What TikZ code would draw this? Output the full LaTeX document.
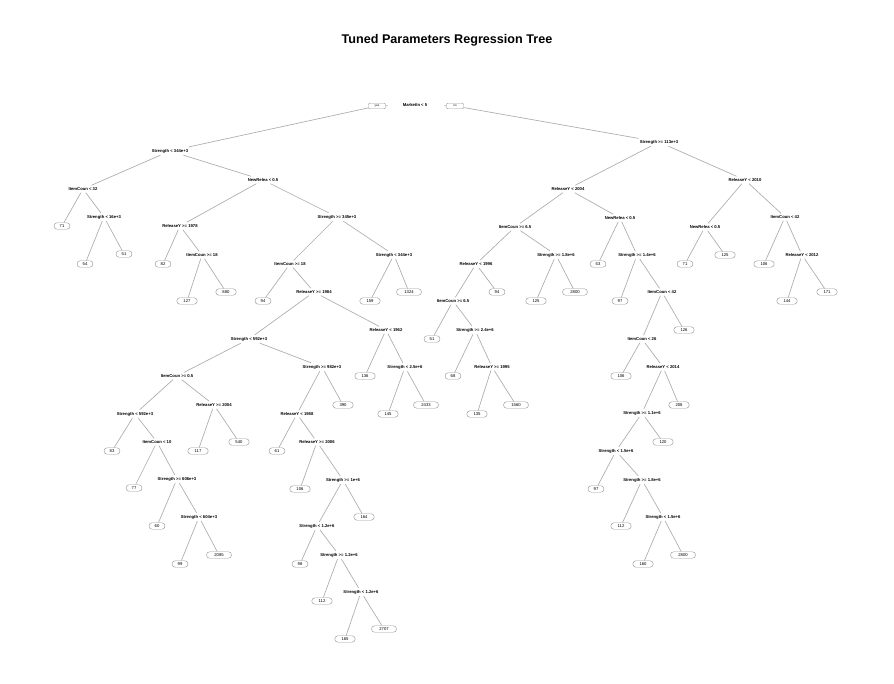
\documentclass[tikz,border=0pt]{standalone}
\usepackage{fontspec}
\setmainfont{Liberation Sans}
\begin{document}
\begin{tikzpicture}[x=1pt,y=-1pt,
  split/.style={font=\fontsize{4.2}{5}\selectfont\bfseries, inner xsep=1pt, inner ysep=2pt},
  leaf/.style={draw=gray!80, line width=0.45pt, rounded corners=3.2pt, minimum height=6.5pt, inner ysep=0pt, inner xsep=0pt, font=\fontsize{4.2}{5}\selectfont, fill=white},
  lwa/.style={leaf, minimum width=16pt},
  lwb/.style={leaf, minimum width=20.5pt},
  lwc/.style={leaf, minimum width=25pt},
  yn/.style={draw=gray!80, line width=0.45pt, rounded corners=1pt, minimum height=5.5pt, minimum width=17pt, inner sep=0pt, font=\fontsize{3}{4}\selectfont},
  edge/.style={draw=gray!65, line width=0.65pt}]
\useasboundingbox (0,0) rectangle (894,683);
\fill[white] (0,0) rectangle (894,683);
\node[font=\fontsize{12.6}{15}\selectfont\bfseries] (title) at (447,40) {Tuned Parameters Regression Tree};
% root
\node[split] (r) at (415,105) {MarketIn < 5};
\node[yn] (yes) at (377,106) {yes};
\node[yn] (no) at (455,106) {no};
% left subtree
\node[split] (a) at (170,151) {Strength < 344e+3};
\node[split] (a1) at (83,189) {ItemCoun < 32};
\node[lwa] (l71) at (62,226) {71};
\node[split] (a12) at (104,217) {Strength < 16e+3};
\node[lwa] (l54) at (85,264) {54};
\node[lwa] (l51) at (124,254) {51};
\node[split] (a2) at (263,180) {NewRelea < 0.5};
\node[split] (a21) at (180,226) {ReleaseY >= 1978};
\node[lwa] (l82) at (163,264) {82};
\node[split] (a212) at (202,255) {ItemCoun >= 18};
\node[lwb] (l127) at (187,301) {127};
\node[lwb] (l880) at (226,292) {880};
\node[split] (a22) at (337,217) {Strength >= 345e+3};
\node[split] (b1) at (290,264) {ItemCoun >= 18};
\node[lwa] (l94a) at (263,301) {94};
\node[split] (b2) at (314,292) {ReleaseY >= 1984};
\node[split] (c1) at (249,339) {Strength < 592e+3};
\node[split] (c11) at (177,376) {ItemCoun >= 0.5};
\node[split] (c111) at (135,414) {Strength < 592e+3};
\node[lwa] (l83) at (112,451) {83};
\node[split] (c1112) at (157,442) {ItemCoun < 10};
\node[lwa] (l77) at (134,488) {77};
\node[split] (c11122) at (177,479) {Strength >= 606e+3};
\node[lwa] (l60) at (157,526) {60};
\node[split] (c111222) at (199,517) {Strength < 604e+3};
\node[lwa] (l99) at (180,564) {99};
\node[lwc] (l2085) at (219,555) {2085};
\node[split] (c112) at (214,405) {ReleaseY >= 2004};
\node[lwb] (l117) at (198,451) {117};
\node[lwb] (l540) at (239,442) {540};
\node[split] (c12) at (322,367) {Strength >= 982e+3};
\node[split] (c121) at (297,414) {ReleaseY < 1988};
\node[lwa] (l61) at (277,451) {61};
\node[split] (c1212) at (317,442) {ReleaseY >= 2006};
\node[lwb] (l106a) at (300,489) {106};
\node[split] (c12122) at (343,480) {Strength >= 1e+6};
\node[split] (c121221) at (317,526) {Strength < 1.2e+6};
\node[lwa] (l98) at (300,564) {98};
\node[split] (c1212212) at (339,555) {Strength >= 1.2e+6};
\node[lwb] (l112a) at (322,601) {112};
\node[split] (c12122122) at (361,592) {Strength < 1.2e+6};
\node[lwb] (l165) at (345,639) {165};
\node[lwc] (l2707) at (384,629) {2707};
\node[lwb] (l164) at (364,517) {164};
\node[lwb] (l390) at (343,405) {390};
\node[split] (c2) at (386,330) {ReleaseY < 1962};
\node[lwb] (l136) at (365,376) {136};
\node[split] (c22) at (405,367) {Strength < 2.5e+6};
\node[lwb] (l145) at (388,414) {145};
\node[lwc] (l2433) at (426,405) {2433};
\node[split] (b3) at (394,255) {Strength < 344e+3};
\node[lwb] (l159) at (370,301) {159};
\node[lwc] (l1324) at (409,292) {1324};
% right subtree
\node[split] (d) at (659,142) {Strength >= 113e+3};
\node[split] (d1) at (568,189) {ReleaseY < 2004};
\node[split] (d11) at (515,227) {ItemCoun >= 6.5};
\node[split] (d111) at (476,264) {ReleaseY < 1996};
\node[split] (d1111) at (453,301) {ItemCoun >= 6.5};
\node[lwa] (l51b) at (432,339) {51};
\node[split] (d11112) at (475,330) {Strength >= 2.4e+6};
\node[lwa] (l68) at (453,376) {68};
\node[split] (d111122) at (492,367) {ReleaseY >= 1995};
\node[lwb] (l135) at (477,414) {135};
\node[lwc] (l1560) at (516,405) {1560};
\node[lwa] (l94b) at (497,292) {94};
\node[split] (d112) at (556,255) {Strength >= 1.8e+6};
\node[lwb] (l125a) at (536,301) {125};
\node[lwc] (l2800a) at (575,292) {2800};
\node[split] (d12) at (620,218) {NewRelea < 0.5};
\node[lwa] (l53) at (598,264) {53};
\node[split] (d122) at (637,255) {Strength >= 1.4e+6};
\node[lwa] (l97a) at (620,301) {97};
\node[split] (d1222) at (662,292) {ItemCoun < 42};
\node[split] (e1) at (642,339) {ItemCoun < 26};
\node[lwb] (l106b) at (621,376) {106};
\node[split] (e12) at (663,367) {ReleaseY < 2014};
\node[split] (e121) at (642,413) {Strength >= 1.1e+6};
\node[split] (e1211) at (616,451) {Strength < 1.5e+6};
\node[lwa] (l97b) at (596,489) {97};
\node[split] (e12112) at (642,480) {Strength >= 1.8e+6};
\node[lwb] (l112b) at (621,526) {112};
\node[split] (e121122) at (663,517) {Strength < 1.5e+6};
\node[lwb] (l160) at (643,564) {160};
\node[lwc] (l2800b) at (683,555) {2800};
\node[lwb] (l120) at (663,442) {120};
\node[lwb] (l208) at (679,405) {208};
\node[lwb] (l126) at (684,330) {126};
\node[split] (d2) at (745,180) {ReleaseY < 2010};
\node[split] (d21) at (705,227) {NewRelea < 0.5};
\node[lwa] (l71b) at (685,264) {71};
\node[lwb] (l125b) at (725,255) {125};
\node[split] (d22) at (785,217) {ItemCoun < 42};
\node[lwb] (l106c) at (764,264) {106};
\node[split] (d222) at (802,255) {ReleaseY < 2012};
\node[lwb] (l144) at (787,301) {144};
\node[lwb] (l171) at (827,292) {171};
% connectors
\draw[edge, shorten >=14pt] (yes) -- (r);
\draw[edge, shorten >=16pt] (no) -- (r);
\draw[edge] (yes) -- (a);
\draw[edge] (no) -- (d);
\foreach \p/\c in {a/a1, a1/l71, a1/a12, a12/l54, a12/l51, a/a2, a2/a21, a21/l82, a21/a212,
  a212/l127, a212/l880, a2/a22, a22/b1, b1/l94a, b1/b2, b2/c1, c1/c11, c11/c111, c111/l83,
  c111/c1112, c1112/l77, c1112/c11122, c11122/l60, c11122/c111222, c111222/l99, c111222/l2085,
  c11/c112, c112/l117, c112/l540, c1/c12, c12/c121, c121/l61, c121/c1212, c1212/l106a,
  c1212/c12122, c12122/c121221, c121221/l98, c121221/c1212212, c1212212/l112a,
  c1212212/c12122122, c12122122/l165, c12122122/l2707, c12122/l164, c12/l390, b2/c2,
  c2/l136, c2/c22, c22/l145, c22/l2433, a22/b3, b3/l159, b3/l1324,
  d/d1, d1/d11, d11/d111, d111/d1111, d1111/l51b, d1111/d11112, d11112/l68, d11112/d111122,
  d111122/l135, d111122/l1560, d111/l94b, d11/d112, d112/l125a, d112/l2800a, d1/d12,
  d12/l53, d12/d122, d122/l97a, d122/d1222, d1222/e1, e1/l106b, e1/e12, e12/e121,
  e121/e1211, e1211/l97b, e1211/e12112, e12112/l112b, e12112/e121122, e121122/l160,
  e121122/l2800b, e121/l120, e12/l208, d1222/l126, d/d2, d2/d21, d21/l71b, d21/l125b,
  d2/d22, d22/l106c, d22/d222, d222/l144, d222/l171}
  \draw[edge] (\p) -- (\c);
\end{tikzpicture}
\end{document}
